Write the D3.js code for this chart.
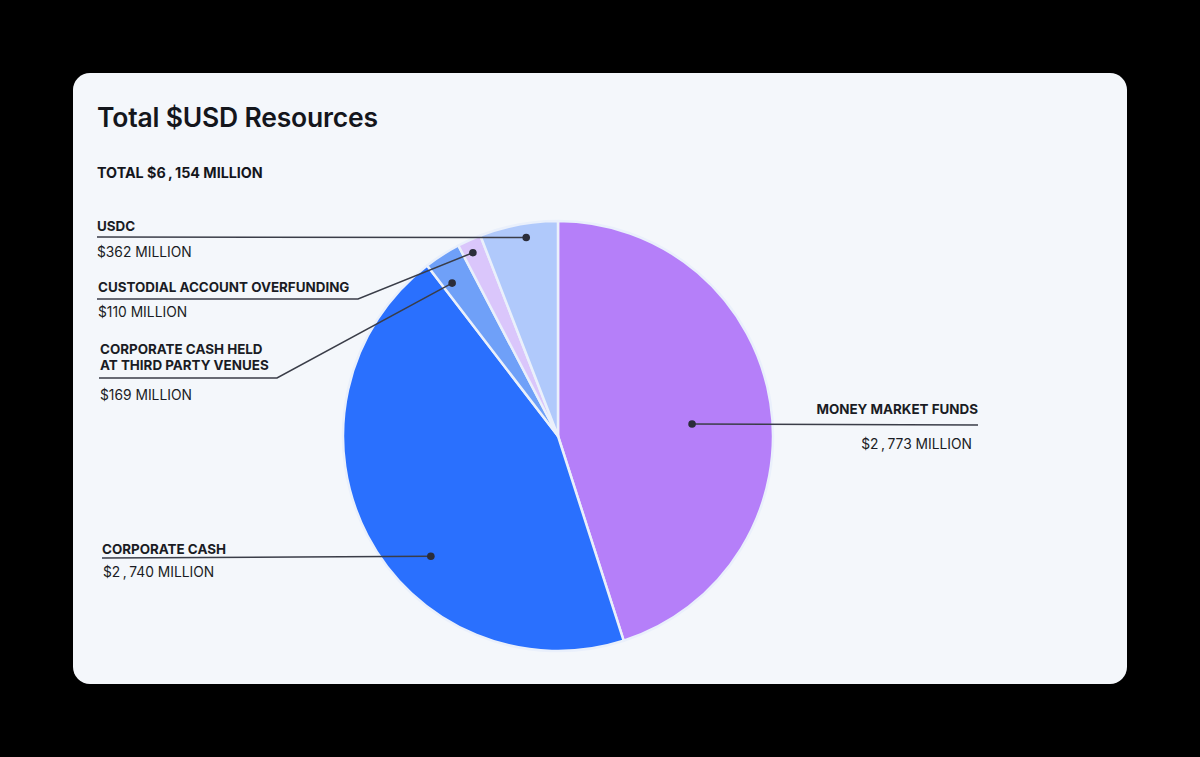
<!DOCTYPE html>
<html><head><meta charset="utf-8">
<script src="https://cdn.jsdelivr.net/npm/d3@7"></script>
<style>
html,body{margin:0;padding:0;background:#000;}
svg{display:block;font-family:Inter,"Noto Sans",sans-serif;}
</style></head>
<body>
<svg id="c" width="1200" height="757"></svg>
<script>
// ---- data ----
const categories = ["MONEY MARKET FUNDS","CORPORATE CASH","CORPORATE CASH HELD|AT THIRD PARTY VENUES","CUSTODIAL ACCOUNT OVERFUNDING","USDC"];
const values = [2773, 2740, 169, 110, 362];
const valueLabels = ["$2\u2009,\u2009773 MILLION","$2\u2009,\u2009740 MILLION","$169 MILLION","$110 MILLION","$362 MILLION"];
const totalLabel = "TOTAL $6\u2009,\u2009154 MILLION";
const colors = ["#b57ff9","#2a70fe","#6fa0f8","#dac6fb","#b0c9fb"];

// ---- layout (styles/positions) ----
const W = 1200, H = 757;
const cx = 558, cy = 436, R = 215;
// per-slice label layout: dot (angle deg from top, r fraction), elbow, line end, text
const layout = [
  {dotA:84.9, dotR:0.626, pts:[[978,425]], anchor:"end", lx:978, ly:[409], vx:972, vy:444},
  {dotA:226.6, dotR:0.814, pts:[[102,558]], anchor:"start", lx:102, ly:[549], vx:103, vy:572},
  {dotA:325.3, dotR:0.865, pts:[[277,378],[99,378]], anchor:"start", lx:100, ly:[349,365], vx:100, vy:395},
  {dotA:335.1, dotR:0.94, pts:[[358,299],[97,299]], anchor:"start", lx:98, ly:[287], vx:98, vy:312},
  {dotA:350.9, dotR:0.935, pts:[[97,237]], anchor:"start", lx:97, ly:[226], vx:97, vy:252}
];

const svg = d3.select("#c");
svg.append("rect").attr("x",73).attr("y",73).attr("width",1054).attr("height",611).attr("rx",17).attr("fill","#f4f7fb");

svg.append("text").attr("x",97).attr("y",127).attr("font-size",26.5).attr("font-weight",600).attr("fill","#14161c").attr("letter-spacing","-0.2").text("Total $USD Resources");
svg.append("text").attr("x",97).attr("y",178).attr("font-size",14.3).attr("font-weight",700).attr("fill","#14161c").text(totalLabel);

const pie = d3.pie().sort(null).value(d=>d)(values);
const arc = d3.arc().innerRadius(0).outerRadius(R);
const g = svg.append("g").attr("transform",`translate(${cx},${cy})`);
g.selectAll("path").data(pie).join("path").attr("d",arc).attr("fill",(d,i)=>colors[i]).attr("stroke","#eaf0fb").attr("stroke-width",2.5).attr("stroke-linejoin","round");

const rad = d3.scaleLinear().domain([0,1]).range([0,R]);
layout.forEach((L,i)=>{
  const a = L.dotA*Math.PI/180;
  const dx = cx + rad(L.dotR)*Math.sin(a), dy = cy - rad(L.dotR)*Math.cos(a);
  const pts = [[dx,dy]].concat(L.pts);
  svg.append("path").attr("d",d3.line()(pts)).attr("fill","none").attr("stroke","#3a3d48").attr("stroke-width",1.5);
  svg.append("circle").attr("cx",dx).attr("cy",dy).attr("r",3.8).attr("fill","#2b2d3a");
  const lines = categories[i].split("|");
  lines.forEach((t,k)=>{
    svg.append("text").attr("x",L.lx).attr("y",L.ly[k]+5).attr("text-anchor",L.anchor).attr("font-size",13.4).attr("font-weight",700).attr("fill","#1a1c24").text(t);
  });
  svg.append("text").attr("x",L.vx).attr("y",L.vy+5).attr("text-anchor",L.anchor).attr("font-size",13.8).attr("font-weight",400).attr("fill","#1a1c24").text(valueLabels[i]);
});
</script>
</body></html>
